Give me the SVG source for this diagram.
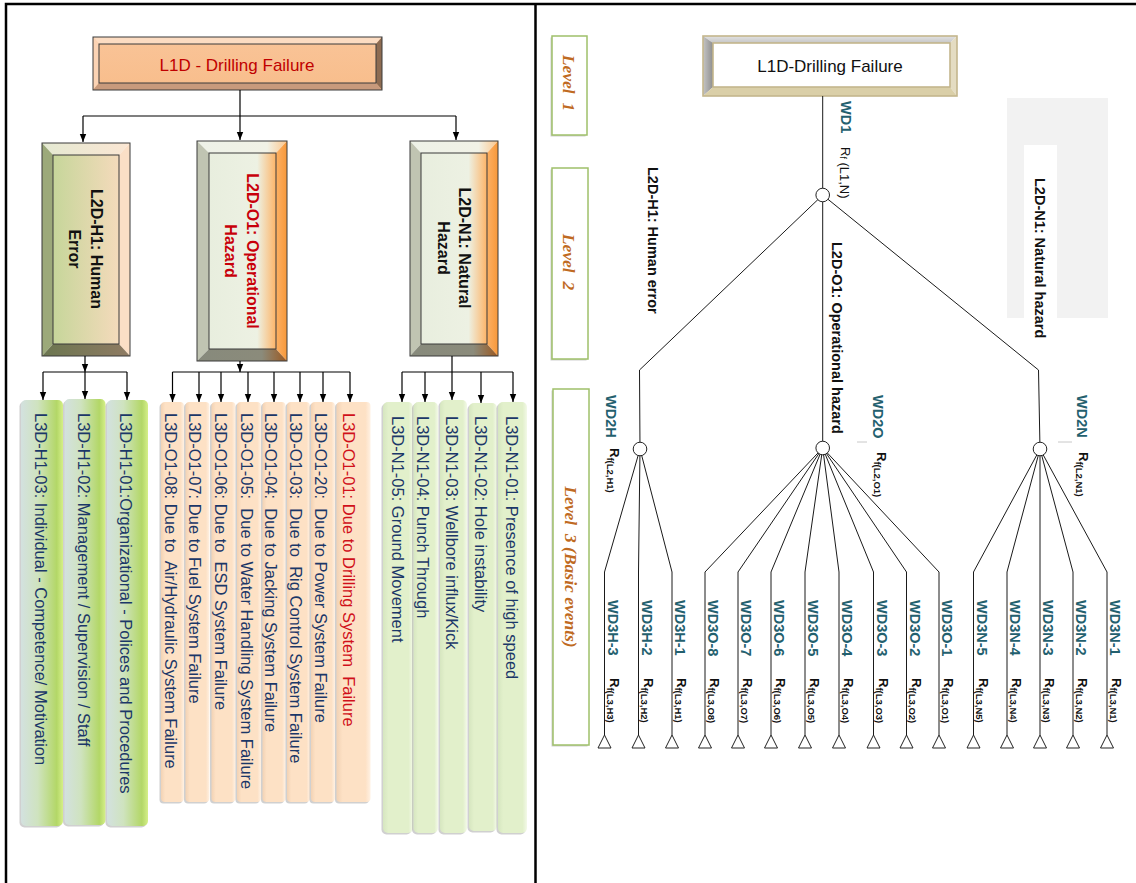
<svg xmlns="http://www.w3.org/2000/svg" width="1136" height="883" viewBox="0 0 1136 883">
<defs>
<style>
.frame{stroke:#000;stroke-width:2.5;fill:none}
.con{stroke:#000;stroke-width:1.2;fill:none}
.tree{stroke:#1a1a1a;stroke-width:1;fill:none}
.bo{stroke:#3a3a3a;stroke-width:1;fill:none}
.l3t{font-family:"Liberation Sans",Arial,sans-serif;font-size:16.5px;fill:#1b3768;white-space:pre;dominant-baseline:central}
.red{fill:#d0101a}
.l2t{font-family:"Liberation Sans",Arial,sans-serif;font-size:16px;font-weight:bold;text-anchor:middle;dominant-baseline:central;fill:#111}
.l2r{fill:#c8000a}
.wd{font-family:"Liberation Sans",Arial,sans-serif;font-size:14.5px;font-weight:bold;fill:#23606e;dominant-baseline:central}
.rf{font-family:"Liberation Sans",Arial,sans-serif;font-size:13px;font-weight:bold;fill:#111;dominant-baseline:central}
.rf1{font-family:"Liberation Sans",Arial,sans-serif;font-size:13px;fill:#111;dominant-baseline:central}
.lbl{font-family:"Liberation Sans",Arial,sans-serif;font-size:14.5px;font-weight:bold;fill:#111;dominant-baseline:central}
.lvl{font-family:"Liberation Serif","Times New Roman",serif;font-style:italic;font-weight:bold;font-size:17.5px;fill:#bf6a22;text-anchor:middle;dominant-baseline:central;white-space:pre}
.lvbox{fill:#fff;stroke:#9fc06a;stroke-width:1.5}
.gate{fill:#fff;stroke:#222;stroke-width:1}
.tri{fill:#fff;stroke:#222;stroke-width:1}
.sh{fill:#8a8a8a;opacity:.4}
.hb{fill:url(#gHl3)}
.ob{fill:url(#gOl3)}
.nb{fill:url(#gNl3)}
</style>
<marker id="arr" viewBox="0 0 10 10" refX="10" refY="5" markerUnits="userSpaceOnUse" markerWidth="8" markerHeight="8" orient="auto">
<path d="M0,1 L10,5 L0,9 z" fill="#000"/>
</marker>
<linearGradient id="gHl3" x1="0" x2="1" y1="0" y2="0"><stop offset="0" stop-color="#d3e1df"/><stop offset=".4" stop-color="#cfe3bf"/><stop offset=".85" stop-color="#b3d767"/><stop offset="1" stop-color="#d5ef88"/></linearGradient>
<linearGradient id="gOl3" x1="0" x2="1" y1="0" y2="0"><stop offset="0" stop-color="#f2d2b4"/><stop offset=".18" stop-color="#fde1c5"/><stop offset=".85" stop-color="#fde1c5"/><stop offset="1" stop-color="#fff1e3"/></linearGradient>
<linearGradient id="gNl3" x1="0" x2="1" y1="0" y2="0"><stop offset="0" stop-color="#d6e6c0"/><stop offset=".18" stop-color="#e2f0cb"/><stop offset=".85" stop-color="#e2f0cb"/><stop offset="1" stop-color="#f3f9e8"/></linearGradient>
<linearGradient id="gH2in" x1="0" x2="1" y1="0" y2="0"><stop offset="0" stop-color="#c6d69a"/><stop offset="1" stop-color="#f4dabb"/></linearGradient>
<linearGradient id="gH2top" x1="0" x2="1" y1="0" y2="0"><stop offset="0" stop-color="#e4e9d2"/><stop offset="1" stop-color="#fbe6d3"/></linearGradient>
<linearGradient id="gH2bot" x1="0" x2="1" y1="0" y2="0"><stop offset="0" stop-color="#6b7650"/><stop offset="1" stop-color="#8f7b63"/></linearGradient>
<linearGradient id="gOin" x1="0" x2="1" y1="0" y2="0"><stop offset="0" stop-color="#e8eede"/><stop offset=".72" stop-color="#edf1e3"/><stop offset="1" stop-color="#fdb468"/></linearGradient>
<linearGradient id="gOtop" x1="0" x2="1" y1="0" y2="0"><stop offset="0" stop-color="#eef2e8"/><stop offset=".78" stop-color="#f1f2e6"/><stop offset="1" stop-color="#fcc68c"/></linearGradient>
<linearGradient id="gObot" x1="0" x2="1" y1="0" y2="0"><stop offset="0" stop-color="#878a7c"/><stop offset=".72" stop-color="#8b8b7b"/><stop offset="1" stop-color="#9b5820"/></linearGradient>
<linearGradient id="gOright" x1="0" x2="1" y1="0" y2="0"><stop offset="0" stop-color="#fcb064"/><stop offset="1" stop-color="#f7983a"/></linearGradient>
<linearGradient id="gTin" x1="0" x2="0" y1="0" y2="1"><stop offset="0" stop-color="#f9c498"/><stop offset="1" stop-color="#f8bd8b"/></linearGradient>
<linearGradient id="gRtop" x1="0" x2="0" y1="0" y2="1"><stop offset="0" stop-color="#e2e2e2"/><stop offset="1" stop-color="#c6c6c6"/></linearGradient>
<linearGradient id="gRleft" x1="0" x2="1" y1="0" y2="0"><stop offset="0" stop-color="#c4c4c4"/><stop offset="1" stop-color="#8e8e8e"/></linearGradient>
</defs>

<!-- frame -->
<path class="frame" d="M6,883 V4 H1136 M535.5,4 V883"/>

<!-- ===== LEFT PANEL ===== -->
<g id="l1d-left">
<rect x="93" y="37" width="289" height="53" fill="url(#gTin)"/>
<polygon points="93,37 382,37 376,44 99,44" fill="#fcdcc2"/>
<polygon points="93,37 99,44 99,83 93,90" fill="#fbd3b4"/>
<polygon points="382,37 382,90 376,83 376,44" fill="#8e6c52"/>
<polygon points="93,90 99,83 376,83 382,90" fill="#c89a7c"/>
<rect class="bo" x="93" y="37" width="289" height="53"/>
<rect class="bo" x="99" y="44" width="277" height="39"/>
<text x="237" y="65" font-family="Liberation Sans, Arial, sans-serif" font-size="17" fill="#c00000" text-anchor="middle" dominant-baseline="central">L1D - Drilling Failure</text>
</g>

<g id="l2d-h1-left">
<rect x="53" y="155" width="66" height="189" fill="url(#gH2in)"/>
<polygon points="42,143 130,143 119,155 53,155" fill="url(#gH2top)"/>
<polygon points="42,143 53,155 53,344 42,356" fill="#9ca97a"/>
<polygon points="130,143 130,356 119,344 119,155" fill="#fbdfc6"/>
<polygon points="42,356 53,344 119,344 130,356" fill="url(#gH2bot)"/>
<rect class="bo" x="42" y="143" width="88" height="213"/>
<rect class="bo" x="53" y="155" width="66" height="189"/>
<text class="l2t" transform="translate(96,249) rotate(90)">L2D-H1: Human</text>
<text class="l2t" transform="translate(74,249) rotate(90)">Error</text>
</g>

<g id="l2d-o1-left">
<rect x="209" y="153" width="67" height="196" fill="url(#gOin)"/>
<polygon points="197,141 287,141 276,153 209,153" fill="url(#gOtop)"/>
<polygon points="197,141 209,153 209,349 197,361" fill="#c0c4b2"/>
<polygon points="287,141 287,361 276,349 276,153" fill="url(#gOright)"/>
<polygon points="197,361 209,349 276,349 287,361" fill="url(#gObot)"/>
<rect class="bo" x="197" y="141" width="90" height="220"/>
<rect class="bo" x="209" y="153" width="67" height="196"/>
<text class="l2t l2r" transform="translate(252,251) rotate(90)">L2D-O1: Operational</text>
<text class="l2t l2r" transform="translate(230,251) rotate(90)">Hazard</text>
</g>

<g id="l2d-n1-left">
<rect x="421" y="153" width="66" height="191" fill="url(#gOin)"/>
<polygon points="410,141 498,141 487,153 421,153" fill="url(#gOtop)"/>
<polygon points="410,141 421,153 421,344 410,356" fill="#c0c4b2"/>
<polygon points="498,141 498,356 487,344 487,153" fill="url(#gOright)"/>
<polygon points="410,356 421,344 487,344 498,356" fill="url(#gObot)"/>
<rect class="bo" x="410" y="141" width="88" height="215"/>
<rect class="bo" x="421" y="153" width="66" height="191"/>
<text class="l2t" transform="translate(464,248) rotate(90)">L2D-N1: Natural</text>
<text class="l2t" transform="translate(443,248) rotate(90)">Hazard</text>
</g>

<!-- L3 human -->
<g id="l3d-h1-03"><rect class="sh" x="19.5" y="401.5" width="42" height="426" rx="5"/><rect class="hb" x="21" y="400" width="42" height="426" rx="5"/><text class="l3t" transform="translate(40.5,413) rotate(90)">L3D-H1-03: Individual - Competence/ Motivation</text></g>
<g id="l3d-h1-02"><rect class="sh" x="63" y="400.5" width="41" height="426" rx="5"/><rect class="hb" x="64.5" y="399" width="41" height="426" rx="5"/><text class="l3t" transform="translate(83.5,413) rotate(90)">L3D-H1-02: Management / Supervision / Staff</text></g>
<g id="l3d-h1-01"><rect class="sh" x="105.5" y="401.5" width="41" height="426" rx="5"/><rect class="hb" x="107" y="400" width="41" height="426" rx="5"/><text class="l3t" transform="translate(126,413) rotate(90)">L3D-H1-01:Organizational - Polices and Procedures</text></g>

<!-- L3 operational -->
<g id="l3d-o1-08"><rect class="sh" x="159.5" y="403.5" width="23" height="400" rx="4"/><rect class="ob" x="161" y="402" width="23" height="400" rx="4"/><text class="l3t" xml:space="preserve" transform="translate(170.5,413) rotate(90)">L3D-O1-08: Due to  Air/Hydraulic System Failure</text></g>
<g id="l3d-o1-07"><rect class="sh" x="184" y="403.5" width="24" height="400" rx="4"/><rect class="ob" x="185.5" y="402" width="24" height="400" rx="4"/><text class="l3t" transform="translate(195,413) rotate(90)">L3D-O1-07: Due to Fuel System Failure</text></g>
<g id="l3d-o1-06"><rect class="sh" x="210" y="403.5" width="24" height="400" rx="4"/><rect class="ob" x="211.5" y="402" width="24" height="400" rx="4"/><text class="l3t" xml:space="preserve" transform="translate(220.5,413) rotate(90)">L3D-O1-06: Due to  ESD System Failure</text></g>
<g id="l3d-o1-05"><rect class="sh" x="235.5" y="403.5" width="24" height="400" rx="4"/><rect class="ob" x="237" y="402" width="24" height="400" rx="4"/><text class="l3t" xml:space="preserve" transform="translate(246.5,413) rotate(90)">L3D-O1-05:  Due to Water Handling System Failure</text></g>
<g id="l3d-o1-04"><rect class="sh" x="261" y="403.5" width="23" height="400" rx="4"/><rect class="ob" x="262.5" y="402" width="23" height="400" rx="4"/><text class="l3t" xml:space="preserve" transform="translate(271,413) rotate(90)">L3D-O1-04:  Due to Jacking System Failure</text></g>
<g id="l3d-o1-03"><rect class="sh" x="285.5" y="403.5" width="23" height="400" rx="4"/><rect class="ob" x="287" y="402" width="23" height="400" rx="4"/><text class="l3t" xml:space="preserve" transform="translate(296,413) rotate(90)">L3D-O1-03:  Due to  Rig Control System Failure</text></g>
<g id="l3d-o1-20"><rect class="sh" x="309.5" y="403.5" width="24" height="400" rx="4"/><rect class="ob" x="311" y="402" width="24" height="400" rx="4"/><text class="l3t" xml:space="preserve" transform="translate(320.5,413) rotate(90)">L3D-O1-20:  Due to Power System Failure</text></g>
<g id="l3d-o1-01"><rect class="sh" x="335" y="403.5" width="34" height="400" rx="4"/><rect class="ob" x="336.5" y="402" width="34" height="400" rx="4"/><text class="l3t red" xml:space="preserve" transform="translate(349,413) rotate(90)">L3D-O1-01: Due to Drilling System  Failure</text></g>

<!-- L3 natural -->
<g id="l3d-n1-05"><rect class="sh" x="381.5" y="403.5" width="30" height="431" rx="5"/><rect class="nb" x="383" y="402" width="30" height="431" rx="5"/><text class="l3t" transform="translate(398,416) rotate(90)">L3D-N1-05: Ground Movement</text></g>
<g id="l3d-n1-04"><rect class="sh" x="412" y="403.5" width="24.5" height="431" rx="5"/><rect class="nb" x="413.5" y="402" width="24.5" height="431" rx="5"/><text class="l3t" transform="translate(423,416) rotate(90)">L3D-N1-04: Punch Through</text></g>
<g id="l3d-n1-03"><rect class="sh" x="438.5" y="401.5" width="27" height="433" rx="5"/><rect class="nb" x="440" y="400" width="27" height="433" rx="5"/><text class="l3t" transform="translate(452,416) rotate(90)">L3D-N1-03: Wellbore influx/Kick</text></g>
<g id="l3d-n1-02"><rect class="sh" x="467.5" y="404.5" width="28" height="428" rx="5"/><rect class="nb" x="469" y="403" width="28" height="428" rx="5"/><text class="l3t" transform="translate(480.5,416) rotate(90)">L3D-N1-02: Hole instability</text></g>
<g id="l3d-n1-01"><rect class="sh" x="496.5" y="403.5" width="29" height="431" rx="5"/><rect class="nb" x="498" y="402" width="29" height="431" rx="5"/><text class="l3t" transform="translate(511.5,416) rotate(90)">L3D-N1-01: Presence of high speed</text></g>

<g id="connectors-left" class="con">
<line x1="240" y1="90" x2="240" y2="116"/>
<line x1="83" y1="116" x2="456" y2="116"/>
<line x1="83" y1="116" x2="83" y2="142" marker-end="url(#arr)"/>
<line x1="240" y1="116" x2="240" y2="140" marker-end="url(#arr)"/>
<line x1="456" y1="116" x2="456" y2="140" marker-end="url(#arr)"/>
<line x1="85" y1="356" x2="85" y2="372" marker-end="url(#arr)"/>
<line x1="43" y1="372" x2="127" y2="372"/>
<line x1="43" y1="372" x2="43" y2="400" marker-end="url(#arr)"/>
<line x1="85" y1="372" x2="85" y2="399" marker-end="url(#arr)"/>
<line x1="127" y1="372" x2="127" y2="400" marker-end="url(#arr)"/>
<line x1="240" y1="361" x2="240" y2="372" marker-end="url(#arr)"/>
<line x1="172.5" y1="372" x2="350" y2="372"/>
<line x1="172.5" y1="372" x2="172.5" y2="402" marker-end="url(#arr)"/>
<line x1="199" y1="372" x2="199" y2="402" marker-end="url(#arr)"/>
<line x1="221" y1="372" x2="221" y2="402" marker-end="url(#arr)"/>
<line x1="248" y1="372" x2="248" y2="402" marker-end="url(#arr)"/>
<line x1="274" y1="372" x2="274" y2="402" marker-end="url(#arr)"/>
<line x1="300" y1="372" x2="300" y2="402" marker-end="url(#arr)"/>
<line x1="323" y1="372" x2="323" y2="402" marker-end="url(#arr)"/>
<line x1="350" y1="372" x2="350" y2="402" marker-end="url(#arr)"/>
<line x1="452" y1="356" x2="452" y2="400" marker-end="url(#arr)"/>
<line x1="402" y1="372" x2="513" y2="372"/>
<line x1="402" y1="372" x2="402" y2="402" marker-end="url(#arr)"/>
<line x1="425" y1="372" x2="425" y2="402" marker-end="url(#arr)"/>
<line x1="481" y1="372" x2="481" y2="403" marker-end="url(#arr)"/>
<line x1="513" y1="372" x2="513" y2="402" marker-end="url(#arr)"/>
</g>

<!-- ===== RIGHT PANEL ===== -->
<g id="level1"><rect class="sh" x="550.5" y="37.5" width="35" height="99"/><rect class="lvbox" x="552" y="36" width="35" height="99"/><text class="lvl" transform="translate(569,83) rotate(90)">Level  1</text></g>
<g id="level2"><rect class="sh" x="550.5" y="169.5" width="36" height="191"/><rect class="lvbox" x="552" y="168" width="36" height="191"/><text class="lvl" transform="translate(569,262) rotate(90)">Level  2</text></g>
<g id="level3"><rect class="sh" x="551.5" y="390.5" width="36" height="356"/><rect class="lvbox" x="553" y="389" width="36" height="356"/><text class="lvl" transform="translate(571,567) rotate(90)">Level  3 (Basic events)</text></g>

<g id="l1d-right">
<rect x="713" y="43" width="237" height="44" fill="#fff"/>
<polygon points="703,36 957,36 950,43 713,43" fill="url(#gRtop)"/>
<polygon points="703,36 713,43 713,87 703,96" fill="url(#gRleft)"/>
<polygon points="957,36 957,96 950,87 950,43" fill="#e4dcc2"/>
<polygon points="703,96 713,87 950,87 957,96" fill="#dacfa8"/>
<rect x="703" y="36" width="254" height="60" fill="none" stroke="#c4b68c" stroke-width="1.6"/>
<rect x="713" y="43" width="237" height="44" fill="none" stroke="#c4b68c" stroke-width="1.6"/>
<text x="830" y="66" font-family="Liberation Sans, Arial, sans-serif" font-size="17" fill="#111" text-anchor="middle" dominant-baseline="central">L1D-Drilling Failure</text>
</g>

<g id="natural-backdrop">
<rect x="1007" y="98" width="101" height="220" fill="#f2f2f2"/>
<rect x="1024" y="145" width="33" height="173" fill="#fff"/>
</g>

<g id="connectors-right" class="tree">
<line x1="822.7" y1="96" x2="822.7" y2="195"/>
<polyline points="822.7,195 639.5,370 640,449"/>
<line x1="822.7" y1="195" x2="822.7" y2="448"/>
<polyline points="822.7,195 1038.5,370 1040,449"/>
<polyline points="640,449 604.5,572 604.5,735"/>
<polyline points="640,449 638.5,572 638.5,735"/>
<polyline points="640,449 672,572 672,735"/>
<polyline points="822.7,448 705,572 705,735"/>
<polyline points="822.7,448 738,572 738,735"/>
<polyline points="822.7,448 771,572 771,735"/>
<polyline points="822.7,448 805,572 805,735"/>
<polyline points="822.7,448 839,572 839,735"/>
<polyline points="822.7,448 873.5,572 873.5,735"/>
<polyline points="822.7,448 906.5,572 906.5,735"/>
<polyline points="822.7,448 939,572 939,735"/>
<polyline points="1040,449 973.5,572 973.5,735"/>
<polyline points="1040,449 1007,572 1007,735"/>
<polyline points="1040,449 1040,735"/>
<polyline points="1040,449 1073,572 1073,735"/>
<polyline points="1040,449 1107,572 1107,735"/>
<line x1="857" y1="442" x2="867" y2="442" stroke="#c8c8c8"/>
<line x1="1058" y1="442" x2="1072" y2="442" stroke="#c8c8c8"/>
</g>

<g id="wd1">
<circle class="gate" cx="822.7" cy="195" r="6.8"/>
<text class="wd" transform="translate(846,101) rotate(90)">WD1</text>
<text class="rf1" transform="translate(845,147) rotate(90)">R<tspan font-size="8.5" dy="2.5">f</tspan><tspan dy="-2.5"> (L1,N)</tspan></text>
</g>
<text id="lbl-h1" class="lbl" transform="translate(653,167) rotate(90)">L2D-H1: Human error</text>
<text id="lbl-o1" class="lbl" transform="translate(837,242) rotate(90)">L2D-O1: Operational hazard</text>
<text id="lbl-n1" class="lbl" transform="translate(1040,178) rotate(90)">L2D-N1: Natural hazard</text>

<g id="wd2h">
<circle class="gate" cx="640" cy="449" r="6.8"/>
<text class="wd" transform="translate(611,395) rotate(90)">WD2H</text>
<text class="rf" transform="translate(614,448) rotate(90)">R<tspan font-size="9.5" dy="3">f(L2,H1)</tspan></text>
</g>
<g id="wd2o">
<circle class="gate" cx="822.7" cy="448" r="6.8"/>
<text class="wd" transform="translate(878,395) rotate(90)">WD2O</text>
<text class="rf" transform="translate(881,452) rotate(90)">R<tspan font-size="9.5" dy="3">f(L2,O1)</tspan></text>
</g>
<g id="wd2n">
<circle class="gate" cx="1040" cy="449" r="6.8"/>
<text class="wd" transform="translate(1082,395) rotate(90)">WD2N</text>
<text class="rf" transform="translate(1083,452) rotate(90)">R<tspan font-size="9.5" dy="3">f(L2,N1)</tspan></text>
</g>

<g id="wd3h-3"><text class="wd" transform="translate(612.5,600) rotate(90)">WD3H-3</text><text class="rf" transform="translate(614,678) rotate(90)">R<tspan font-size="9.5" dy="3">f(L3,H3)</tspan></text><polygon class="tri" points="604.5,735 598,748 611,748"/></g>
<g id="wd3h-2"><text class="wd" transform="translate(646.5,600) rotate(90)">WD3H-2</text><text class="rf" transform="translate(648,678) rotate(90)">R<tspan font-size="9.5" dy="3">f(L3,H2)</tspan></text><polygon class="tri" points="638.5,735 632,748 645,748"/></g>
<g id="wd3h-1"><text class="wd" transform="translate(680,600) rotate(90)">WD3H-1</text><text class="rf" transform="translate(681.5,678) rotate(90)">R<tspan font-size="9.5" dy="3">f(L3,H1)</tspan></text><polygon class="tri" points="672,735 665.5,748 678.5,748"/></g>

<g id="wd3o-8"><text class="wd" transform="translate(713,600) rotate(90)">WD3O-8</text><text class="rf" transform="translate(714.5,678) rotate(90)">R<tspan font-size="9.5" dy="3">f(L3,O8)</tspan></text><polygon class="tri" points="705,735 698.5,748 711.5,748"/></g>
<g id="wd3o-7"><text class="wd" transform="translate(746,600) rotate(90)">WD3O-7</text><text class="rf" transform="translate(747.5,678) rotate(90)">R<tspan font-size="9.5" dy="3">f(L3,O7)</tspan></text><polygon class="tri" points="738,735 731.5,748 744.5,748"/></g>
<g id="wd3o-6"><text class="wd" transform="translate(779,600) rotate(90)">WD3O-6</text><text class="rf" transform="translate(780.5,678) rotate(90)">R<tspan font-size="9.5" dy="3">f(L3,O6)</tspan></text><polygon class="tri" points="771,735 764.5,748 777.5,748"/></g>
<g id="wd3o-5"><text class="wd" transform="translate(813,600) rotate(90)">WD3O-5</text><text class="rf" transform="translate(814.5,678) rotate(90)">R<tspan font-size="9.5" dy="3">f(L3,O5)</tspan></text><polygon class="tri" points="805,735 798.5,748 811.5,748"/></g>
<g id="wd3o-4"><text class="wd" transform="translate(847,600) rotate(90)">WD3O-4</text><text class="rf" transform="translate(848.5,678) rotate(90)">R<tspan font-size="9.5" dy="3">f(L3,O4)</tspan></text><polygon class="tri" points="839,735 832.5,748 845.5,748"/></g>
<g id="wd3o-3"><text class="wd" transform="translate(881.5,600) rotate(90)">WD3O-3</text><text class="rf" transform="translate(883,678) rotate(90)">R<tspan font-size="9.5" dy="3">f(L3,O3)</tspan></text><polygon class="tri" points="873.5,735 867,748 880,748"/></g>
<g id="wd3o-2"><text class="wd" transform="translate(914.5,600) rotate(90)">WD3O-2</text><text class="rf" transform="translate(916,678) rotate(90)">R<tspan font-size="9.5" dy="3">f(L3,O2)</tspan></text><polygon class="tri" points="906.5,735 900,748 913,748"/></g>
<g id="wd3o-1"><text class="wd" transform="translate(947,600) rotate(90)">WD3O-1</text><text class="rf" transform="translate(948.5,678) rotate(90)">R<tspan font-size="9.5" dy="3">f(L3,O1)</tspan></text><polygon class="tri" points="939,735 932.5,748 945.5,748"/></g>

<g id="wd3n-5"><text class="wd" transform="translate(981.5,600) rotate(90)">WD3N-5</text><text class="rf" transform="translate(983,678) rotate(90)">R<tspan font-size="9.5" dy="3">f(L3,N5)</tspan></text><polygon class="tri" points="973.5,735 967,748 980,748"/></g>
<g id="wd3n-4"><text class="wd" transform="translate(1015,600) rotate(90)">WD3N-4</text><text class="rf" transform="translate(1016.5,678) rotate(90)">R<tspan font-size="9.5" dy="3">f(L3,N4)</tspan></text><polygon class="tri" points="1007,735 1000.5,748 1013.5,748"/></g>
<g id="wd3n-3"><text class="wd" transform="translate(1048,600) rotate(90)">WD3N-3</text><text class="rf" transform="translate(1049.5,678) rotate(90)">R<tspan font-size="9.5" dy="3">f(L3,N3)</tspan></text><polygon class="tri" points="1040,735 1033.5,748 1046.5,748"/></g>
<g id="wd3n-2"><text class="wd" transform="translate(1081,600) rotate(90)">WD3N-2</text><text class="rf" transform="translate(1082.5,678) rotate(90)">R<tspan font-size="9.5" dy="3">f(L3,N2)</tspan></text><polygon class="tri" points="1073,735 1066.5,748 1079.5,748"/></g>
<g id="wd3n-1"><text class="wd" transform="translate(1115,600) rotate(90)">WD3N-1</text><text class="rf" transform="translate(1116.5,678) rotate(90)">R<tspan font-size="9.5" dy="3">f(L3,N1)</tspan></text><polygon class="tri" points="1107,735 1100.5,748 1113.5,748"/></g>
</svg>
